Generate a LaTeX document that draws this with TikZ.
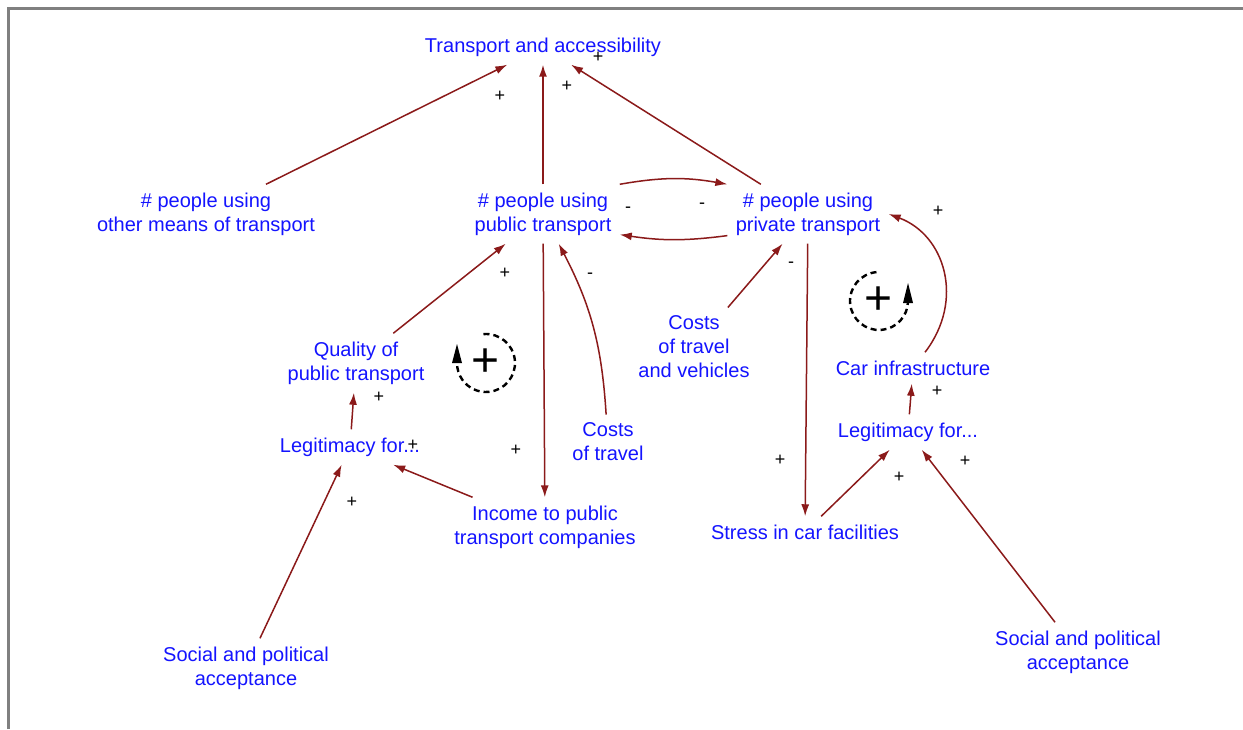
\documentclass[tikz,border=0pt]{standalone}
\usepackage{fontspec}
\setmainfont{Liberation Sans}
\usetikzlibrary{arrows.meta}
\definecolor{arr}{RGB}{139,26,26}
\definecolor{txt}{RGB}{20,20,255}
\definecolor{framec}{RGB}{128,128,128}
\begin{document}
\begin{tikzpicture}[x=0.5pt,y=-0.5pt,
  var/.style={text=txt,font=\fontsize{10}{12}\selectfont,align=center,inner sep=4pt},
  lnk/.style={draw=arr,line width=0.75pt,-{Latex[length=6pt,width=4pt]}},
  sgn/.style={font=\fontsize{9}{9}\selectfont,inner sep=0pt},
  loopd/.style={dash pattern=on 3pt off 2pt,line width=1.2pt},
  bigplus/.style={font=\fontsize{24}{24}\selectfont,inner sep=0pt}]
\useasboundingbox (0,0) rectangle (1243,729);
\fill[white] (0,0) rectangle (1243,729);
\draw[framec,line width=1.5pt] (8.5,729) -- (8.5,8.5) -- (1243,8.5);

% variables
\node[var] (ta) at (543,47) {Transport and accessibility};
\node[var] (oth) at (206,214) {\# people using\\other means of transport};
\node[var] (pub) at (543,214) {\# people using\\public transport};
\node[var] (pri) at (808,214) {\# people using\\private transport};
\node[var] (qua) at (356,363) {Quality of\\public transport};
\node[var] (leg1) at (350,447) {Legitimacy for...};
\node[var] (cot) at (608,442) {Costs\\of travel};
\node[var] (inc) at (545,527) {Income to public\\transport companies};
\node[var] (cov) at (694,347) {Costs\\of travel\\and vehicles};
\node[var] (car) at (913,368) {Car infrastructure};
\node[var] (leg2) at (908,432) {Legitimacy for...};
\node[var] (str) at (805,532) {Stress in car facilities};
\node[var] (soc1) at (246,668) {Social and political\\acceptance};
\node[var] (soc2) at (1078,652) {Social and political\\acceptance};

% links
\draw[lnk] (oth) -- (ta);
\draw[lnk] (pub) -- (ta);
\draw[lnk] (pri) -- (ta);
\draw[lnk] (pub.north east) to[bend left=10] (pri.north west);
\draw[lnk] (pri.195) to[bend left=8] (pub.-15);
\draw[lnk] (qua) -- (pub);
\draw[lnk] (pub) -- (inc);
\draw[lnk] (cot) to[bend right=12] (pub);
\draw[lnk] (cov) -- (pri);
\draw[lnk] (pri) -- (str);
\draw[lnk] (car) .. controls (965,300) and (945,235) .. (pri.east);
\draw[lnk] (leg2) -- (car);
\draw[lnk] (str) -- (leg2);
\draw[lnk] (soc2) -- (leg2);
\draw[lnk] (leg1) -- (qua);
\draw[lnk] (inc) -- (leg1);
\draw[lnk] (soc1) -- (leg1);

% polarity signs
\node[sgn] (s1) at (500,96) {+};
\node[sgn] (s2) at (567,86) {+};
\node[sgn] (s3) at (598,57) {+};
\node[sgn] (s4) at (628,210) {-};
\node[sgn] (s5) at (702,206) {-};
\node[sgn] (s6) at (505,273) {+};
\node[sgn] (s7) at (590,276) {-};
\node[sgn] (s8) at (791,265) {-};
\node[sgn] (s9) at (938,211) {+};
\node[sgn] (s10) at (379,397) {+};
\node[sgn] (s11) at (413,445) {+};
\node[sgn] (s12) at (516,450) {+};
\node[sgn] (s13) at (352,502) {+};
\node[sgn] (s14) at (780,460) {+};
\node[sgn] (s15) at (937,391) {+};
\node[sgn] (s16) at (899,477) {+};
\node[sgn] (s17) at (965,461) {+};

% loops
\node[bigplus] (l1) at (486,363) {+};
\draw[loopd] (l1.center) ++(95:14.5pt) arc[start angle=95,end angle=-180,radius=14.5pt];
\fill (l1.center) ++(-34,0) -- ++(10,0) -- ++(-5,-19) -- cycle;
\node[bigplus] (l2) at (879,301) {+};
\draw[loopd] (l2.center) ++(95:14.5pt) arc[start angle=95,end angle=360,radius=14.5pt];
\fill (l2.center) ++(24,2) -- ++(10,0) -- ++(-5,-20) -- cycle;
\end{tikzpicture}
\end{document}
